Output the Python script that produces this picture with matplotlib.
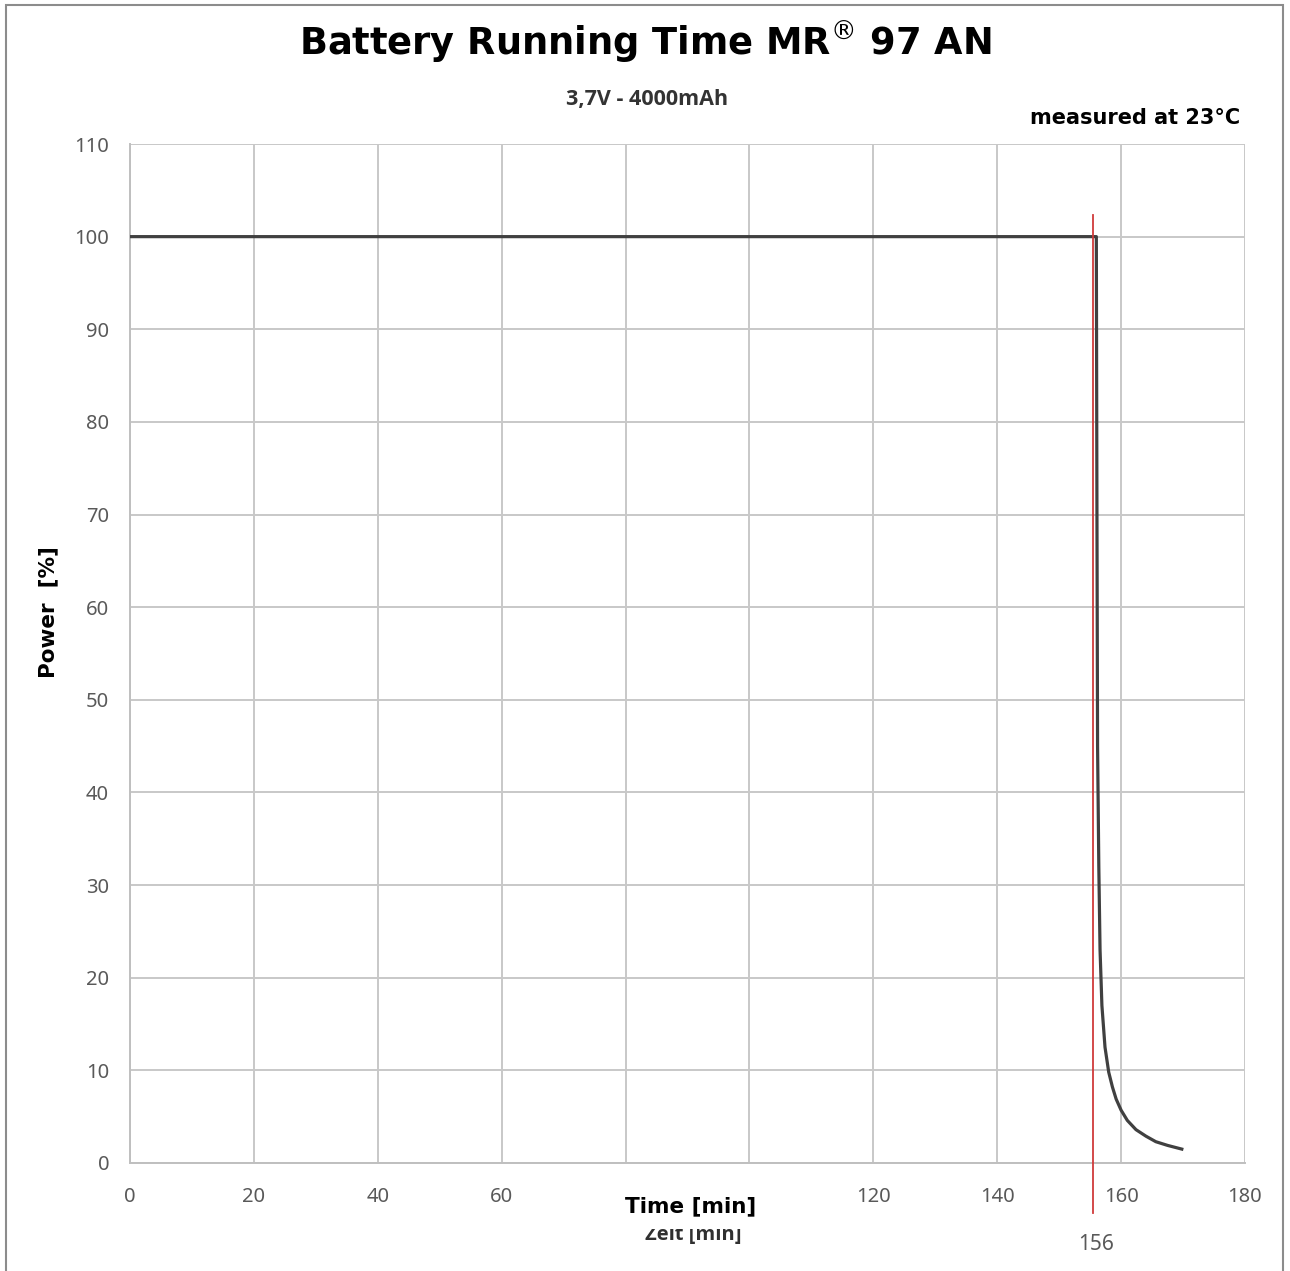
import matplotlib.pyplot as plt
from matplotlib.patches import Rectangle
from matplotlib.transforms import Bbox, TransformedBbox

time_min = [0, 156.0, 156.1, 156.2, 156.4, 156.6, 156.9, 157.4, 158.0, 158.6,
            159.2, 160.0, 161.0, 162.4, 164.0, 165.6, 167.5, 169.8]
power_pct = [100, 100, 70, 45, 32, 23, 17, 12.5, 9.8, 8.2,
             6.9, 5.7, 4.6, 3.6, 2.9, 2.3, 1.9, 1.5]

marker_time = 155.4
marker_span = [-5.4, 102.3]
marker_label = '156'

x_ticks = [0, 20, 40, 60, 80, 100, 120, 140, 160, 180]
x_tick_labels = ['0', '20', '40', '60', '', '', '120', '140', '160', '180']
y_ticks = [0, 10, 20, 30, 40, 50, 60, 70, 80, 90, 100, 110]

W, H = 1290, 1271
fig = plt.figure(figsize=(W / 100, H / 100), dpi=100)
ax = fig.add_axes([130 / W, 1 - 1163 / H, 1115 / W, 1019 / H])

ax.plot(time_min, power_pct, color='#404040', lw=2.3, solid_joinstyle='round', zorder=3)
ax.plot([marker_time, marker_time], marker_span, color='#d03a3a', lw=1.3,
        clip_on=False, zorder=4)

ax.set_xlim(0, 180)
ax.set_ylim(0, 110)
ax.set_xticks(x_ticks)
ax.set_xticklabels(x_tick_labels)
ax.set_yticks(y_ticks)
ax.grid(True, color='#c8c8c8', lw=1.4)
ax.set_axisbelow(True)
for s in ['top', 'right']:
    ax.spines[s].set_visible(False)
for s in ['left', 'bottom']:
    ax.spines[s].set_color('#bfbfbf')
    ax.spines[s].set_linewidth(1.4)
ax.tick_params(length=0, colors='#595959', labelsize=14.5)
ax.tick_params(axis='x', pad=17)
ax.tick_params(axis='y', pad=15)
for lab in ax.get_xticklabels() + ax.get_yticklabels():
    lab.set_family('Noto Sans')

# Texte
fig.text(645 / W, 1 - 42 / H, 'Battery Running Time MR$^{\u00ae}$ 97 AN',
         ha='center', va='center', fontsize=26.5, fontweight='bold',
         family='DejaVu Sans')
fig.text(647 / W, 1 - 99 / H, '3,7V - 4000mAh', ha='center', va='center',
         fontsize=15.5, fontweight='bold', family='Open Sans', color='#333333')
fig.text(1240 / W, 1 - 118 / H, 'measured at 23\u00b0C', ha='right', va='center',
         fontsize=15, fontweight='bold', family='DejaVu Sans')
fig.text(48 / W, 1 - 612 / H, 'Power  [%]', rotation=90, ha='center', va='center',
         fontsize=15.5, fontweight='bold', family='DejaVu Sans')
fig.text(691 / W, 1 - 1206 / H, 'Time [min]', ha='center', va='center',
         fontsize=15.5, fontweight='bold', family='DejaVu Sans')
zeit = fig.text(693 / W, 1 - 1235 / H, 'Zeit [min]', ha='center', va='center',
                fontsize=14.5, fontweight='bold', family='Open Sans', color='#303030')
zeit.set_clip_box(TransformedBbox(Bbox([[0, 0], [1, 1 - 1229 / H]]), fig.transFigure))
zeit.set_clip_on(True)
fig.text(1096 / W, 1 - 1245 / H, marker_label, ha='center', va='center',
         fontsize=15, color='#595959', family='Noto Sans')

# Rahmen
fig.patches.append(Rectangle((6 / W, -0.01), 1277 / W, 1 - 5 / H + 0.01,
                             transform=fig.transFigure, fill=False,
                             edgecolor='#8c8c8c', lw=1.5))

fig.savefig('out.png', dpi=100)
